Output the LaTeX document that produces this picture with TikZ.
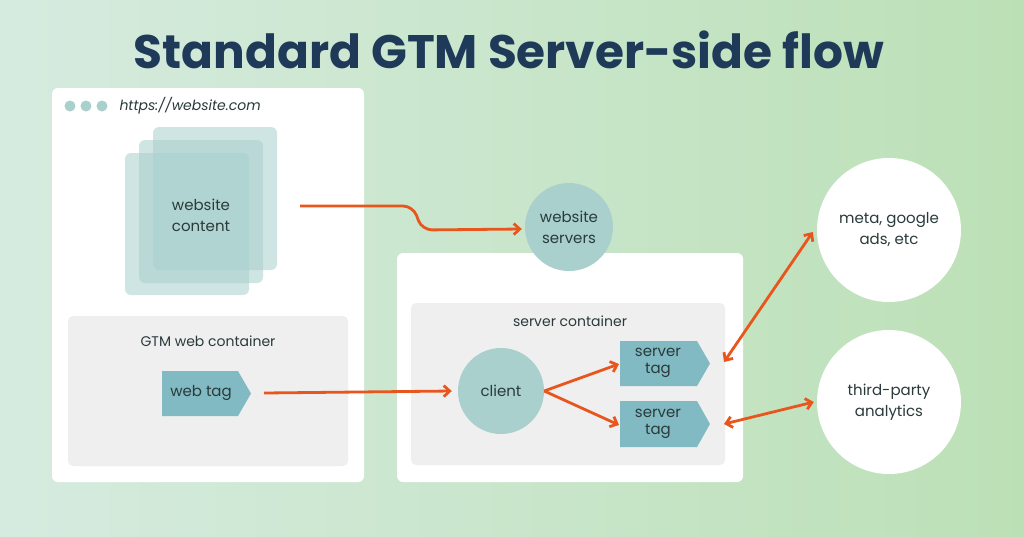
\documentclass[tikz,border=0pt]{standalone}
\usepackage{fontspec}
\setmainfont{Poppins}
\usetikzlibrary{arrows.meta,calc}
\definecolor{org}{HTML}{E8561E}
\definecolor{navy}{HTML}{1E3A58}
\definecolor{teal}{HTML}{82BAC4}
\definecolor{mint}{HTML}{A9D0CD}
\definecolor{greyb}{HTML}{EFEFEF}
\definecolor{txt}{HTML}{2A3A3A}
\definecolor{bgl}{HTML}{D6EBE0}
\definecolor{bgm}{HTML}{EAF4EB}
\definecolor{bgr}{HTML}{BCE0B6}
\begin{document}
\begin{tikzpicture}[x=1pt,y=-1pt,
  win/.style={fill=white,rounded corners=6pt},
  cont/.style={fill=greyb,rounded corners=5pt},
  page/.style={fill=mint,fill opacity=0.55,rounded corners=6pt},
  tagtxt/.style={text=txt,font=\fontsize{15}{17}\selectfont,align=center,inner sep=0pt},
  circ/.style={circle,fill=mint,text=txt,font=\fontsize{15}{21}\selectfont,align=center,minimum size=#1},
  wcirc/.style={circle,fill=white,text=txt,font=\fontsize{15}{21}\selectfont,align=center,minimum size=144pt},
  lbl/.style={text=txt,font=\fontsize{14}{16}\selectfont,align=center},
  arr/.style={draw=org,line width=2.8pt,-{Straight Barb[length=6pt,width=11pt]}},
  darr/.style={draw=org,line width=2.8pt,{Straight Barb[length=6pt,width=11pt]}-{Straight Barb[length=6pt,width=11pt]}}]
\useasboundingbox (0,0) rectangle (1024,536);
\fill[left color=bgl,middle color=bgm,right color=bgr] (0,0) rectangle (1024,536);
\node[text=navy,font=\fontsize{47}{49}\selectfont\bfseries] (title) at (509,50) {Standard GTM Server-side flow};
% browser
\fill[win] (52,88) rectangle (364,482);
\foreach \x in {70,86,102} \fill[mint] (\x,106) circle (5.5);
\node[anchor=west,text=txt,font=\fontsize{14}{16}\selectfont\itshape] (url) at (116,106) {https://website.com};
\fill[page] (153,127) rectangle (277,270);
\fill[page] (139,140) rectangle (263,283);
\fill[page] (125,153) rectangle (249,295);
\node[lbl,font=\fontsize{15}{21}\selectfont] (wc) at (201,215) {website\\content};
\coordinate (wcout) at (300,206);
\fill[cont] (68,316) rectangle (348,466);
\node[lbl] (gwc) at (208,341) {GTM web container};
\fill[teal] (162,371) -- (238,371) -- (251,393.5) -- (238,416) -- (162,416) -- cycle;
\node[tagtxt] (wt) at (201,393) {web tag};
\coordinate (wte) at (264,393);
% server window
\fill[win] (397,253) rectangle (743,482);
\fill[cont] (411,303) rectangle (725,465);
\node[lbl] (sc) at (570,321) {server container};
\node[circ=88pt] (ws) at (569,227) {website\\servers};
\node[circ=86pt] (cl) at (501,391) {client};
\fill[teal] (620,341) -- (697,341) -- (710,363.5) -- (697,386) -- (620,386) -- cycle;
\fill[teal] (620,401) -- (697,401) -- (710,424) -- (697,447) -- (620,447) -- cycle;
\node[tagtxt] (st1) at (658,363) {server\\tag};
\node[tagtxt] (st2) at (658,424) {server\\tag};
\coordinate (s1e) at (724,362);
\coordinate (s2e) at (724,424);
\coordinate (s1w) at (619,364);
\coordinate (s2w) at (619,425);
\node[wcirc] (meta) at (889,230) {meta, google\\ads, etc};
\node[wcirc] (tpa) at (889,402) {third-party\\analytics};
% connectors
\draw[arr,rounded corners=10pt] (wcout) -- (413,206) -- (422,230) -- ($(ws.west)+(-3,2)$);
\draw[arr] (wte) -- ($(cl.west)+(-6,0)$);
\draw[arr] (cl.east) -- (s1w);
\draw[arr] (cl.east) -- (s2w);
\draw[darr] (s1e) -- ($(meta.west)+(-4,2)$);
\draw[darr] (s2e) -- ($(tpa.west)+(-3,0)$);
\end{tikzpicture}
\end{document}
